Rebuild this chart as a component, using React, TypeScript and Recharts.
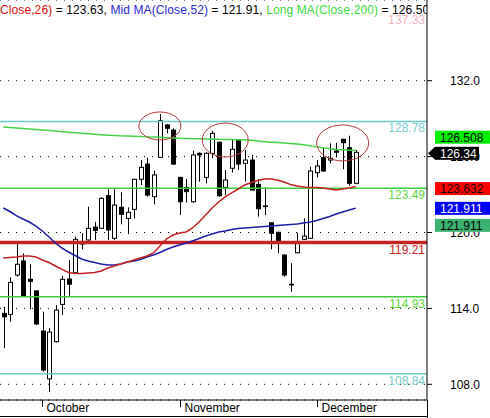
import { ComposedChart, Bar, Line, XAxis, YAxis, CartesianGrid, ReferenceLine, ReferenceDot } from "recharts"

const opens = [
  113.61, 113.53, 116.64, 117.75, 116.3, 115.38, 112.21, 108.43, 111.37, 114.32, 116.32, 116.82,
  119.19, 119.41, 120.43, 120.33, 122.91, 119.54, 121.99, 121.12, 121.83, 124.21, 125.41, 122.83,
  125.94, 128.5, 128.1, 124.36, 123.57, 122.43, 126.26, 124.36, 126.26, 127.13, 123.57, 125.08,
  127.26, 125.47, 125.73, 123.81, 122.1, 120.77, 120.02, 118.22, 115.91, 118.4, 119.46, 119.54,
  124.73, 125.91, 125.73, 126.44, 127.37, 126.7, 123.89,
]
const highs = [
  114.13, 116.46, 119.15, 118.36, 117.49, 115.45, 113.74, 112.45, 114.27, 116.56, 117.83, 119.67,
  119.94, 122.04, 120.83, 122.8, 123.42, 123.42, 123.18, 121.99, 124.25, 125.73, 125.91, 124.89,
  129.37, 128.58, 128.24, 124.4, 124.23, 126.47, 126.34, 126.34, 128.05, 127.2, 124.94, 127.31,
  127.3, 126.52, 126.13, 124.21, 123.57, 120.8, 120.05, 118.3, 117.57, 119.98, 121.12, 125.2,
  125.73, 126.74, 127.05, 127.1, 127.4, 127.65, 126.52,
]
const lows = [
  110.85, 112.95, 116.51, 114.92, 113.93, 112.69, 109.0, 107.4, 111.3, 113.48, 115.0, 116.8,
  118.67, 119.35, 119.41, 120.3, 119.41, 119.41, 120.65, 119.86, 121.12, 123.75, 122.83, 122.23,
  125.9, 127.84, 125.34, 121.38, 122.36, 122.36, 124.02, 123.89, 125.87, 122.83, 122.96, 124.73,
  124.94, 124.02, 123.3, 121.25, 121.38, 118.67, 118.36, 116.51, 115.32, 118.36, 119.4, 119.5,
  124.36, 124.8, 125.47, 125.94, 125.0, 123.68, 123.81,
]
const closes = [
  113.34, 116.06, 117.49, 114.98, 116.14, 112.77, 109.13, 112.13, 113.87, 116.3, 115.91, 119.46,
  119.09, 120.33, 120.17, 122.7, 120.2, 122.17, 121.44, 121.6, 124.21, 125.15, 122.96, 124.55,
  128.84, 128.24, 125.41, 122.43, 123.23, 126.13, 126.13, 126.26, 127.84, 122.91, 124.15, 126.58,
  125.41, 125.73, 123.36, 121.88, 122.05, 119.94, 119.19, 116.64, 115.86, 119.27, 119.72, 124.86,
  125.26, 124.86, 125.87, 126.34, 127.1, 123.89, 126.34,
]
const shortMa = [
  117.98, 118.02, 118.06, 118.14, 118.14, 118.06, 117.83, 117.63, 117.35, 117.08, 116.84, 116.76,
  116.76, 116.8, 116.84, 116.96, 117.19, 117.35, 117.51, 117.67, 117.83, 117.98, 118.14, 118.38,
  118.93, 119.49, 119.8, 119.96, 120.04, 120.36, 120.83, 121.39, 121.94, 122.41, 122.81, 123.13,
  123.44, 123.76, 123.95, 124.11, 124.23, 124.23, 124.15, 123.99, 123.79, 123.68, 123.6, 123.56,
  123.56, 123.52, 123.44, 123.36, 123.44, 123.52, 123.63,
]
const midMa = [
  121.94, 121.66, 121.34, 121.07, 120.83, 120.51, 120.12, 119.64, 119.17, 118.77, 118.46, 118.18,
  117.91, 117.75, 117.63, 117.51, 117.43, 117.43, 117.51, 117.67, 117.75, 117.87, 118.06, 118.22,
  118.42, 118.66, 118.85, 119.01, 119.17, 119.33, 119.53, 119.72, 119.88, 120.04, 120.12, 120.24,
  120.32, 120.36, 120.4, 120.43, 120.47, 120.51, 120.55, 120.59, 120.63, 120.67, 120.75, 120.83,
  120.95, 121.11, 121.26, 121.46, 121.62, 121.78, 121.91,
]
const longMa = [
  128.34, 128.3, 128.26, 128.22, 128.18, 128.14, 128.1, 128.06, 128.02, 127.97, 127.93, 127.89,
  127.85, 127.81, 127.76, 127.72, 127.69, 127.67, 127.64, 127.63, 127.61, 127.59, 127.56, 127.55,
  127.53, 127.5, 127.48, 127.45, 127.44, 127.42, 127.41, 127.39, 127.38, 127.37, 127.36, 127.35,
  127.34, 127.33, 127.29, 127.23, 127.18, 127.14, 127.11, 127.08, 127.04, 127.0, 126.93, 126.85,
  126.77, 126.7, 126.62, 126.57, 126.54, 126.51, 126.51,
]

const monthTicks = [6, 27, 48]
const monthLabels = ["October", "November", "December"]
const priceTicks = [108, 114, 120, 126, 132]
const levelValues = [137.33, 128.78, 123.49, 119.21, 114.93, 108.84]
const tagValues = [126.508, 126.34, 123.632, 121.911, 121.911]
const circledIdx = [24, 34, 52]
const circledPrice = [128.42, 127.31, 127.08]

const font = '"Liberation Sans", Arial, sans-serif'

const data = opens.map((o, i) => ({
  i,
  open: o,
  high: highs[i],
  low: lows[i],
  close: closes[i],
  ma26: shortMa[i],
  ma52: midMa[i],
  ma200: longMa[i],
}))

// line colour, line width, text colour
const levelStyle = [
  { stroke: "none", w: 0, text: "#f2b3c3" },
  { stroke: "#6cc9c9", w: 1.5, text: "#7ccccc" },
  { stroke: "#3ccc3c", w: 1.5, text: "#5cd63c" },
  { stroke: "#c42424", w: 3.5, text: "#cc2222" },
  { stroke: "#3ccc3c", w: 1.5, text: "#5cd63c" },
  { stroke: "#6cc9c9", w: 1.5, text: "#7ccccc" },
]

const tagStyle = [
  { bg: "#00f000", fg: "#000", dy: -13, w: 55, arrow: false },
  { bg: "#000", fg: "#fff", dy: 1, w: 44, arrow: true },
  { bg: "#ff0000", fg: "#200", dy: 2, w: 55, arrow: false },
  { bg: "#0000ff", fg: "#fff", dy: 0, w: 55, arrow: false },
  { bg: "#3cb371", fg: "#000", dy: 17, w: 55, arrow: false },
]

const ellipseSize = [
  { rx: 21, ry: 14 },
  { rx: 23, ry: 17 },
  { rx: 26, ry: 18 },
]

function Candle(props: any) {
  const { x, y, width, height, payload } = props
  const { open, close, high, low } = payload
  const h = Math.abs(height)
  const top = height < 0 ? y + height : y
  const py = (v: number) => (high === low ? top : top + ((high - v) / (high - low)) * h)
  const cx = Math.round(x + width / 2) + 0.5
  const up = close >= open
  const bTop = py(Math.max(open, close))
  const bBot = py(Math.min(open, close))
  return (
    <g>
      <line x1={cx} x2={cx} y1={top} y2={top + h} stroke="#000" />
      <rect
        x={cx - 2}
        y={bTop}
        width={4}
        height={Math.max(bBot - bTop, 0.5)}
        fill={up ? "#fff" : "#000"}
        stroke="#000"
      />
    </g>
  )
}

function MonthTick(props: any) {
  const { x, y, payload } = props
  const k = monthTicks.indexOf(payload.value)
  const lx = Math.round(x) + 0.5
  return (
    <g>
      <line x1={lx} x2={lx} y1={y} y2={y + 7} stroke="#000" />
      <text x={lx + 4} y={y + 12} fontSize={12} fontFamily={font} fill="#000">
        {monthLabels[k]}
      </text>
    </g>
  )
}

export default function App() {
  return (
    <div style={{ position: "absolute", left: 0, top: 0, width: 490, height: 418, background: "#fff", fontFamily: font }}>
      <ComposedChart width={490} height={418} data={data} margin={{ top: 0, right: 0, bottom: 0, left: 0 }}>
        <CartesianGrid vertical={false} stroke="#000" strokeDasharray="1 7" />
        <XAxis
          dataKey="i"
          type="category"
          ticks={monthTicks}
          interval={0}
          padding={{ left: 0, right: 68 }}
          height={18}
          axisLine={{ stroke: "#000" }}
          tickLine={false}
          tickSize={0}
          tickMargin={0}
          tick={<MonthTick />}
        />
        <YAxis
          orientation="right"
          type="number"
          width={63}
          domain={[106.76, 138.38]}
          allowDataOverflow
          ticks={priceTicks}
          tickFormatter={(v: number) => v.toFixed(1)}
          axisLine={{ stroke: "#000" }}
          tickLine={{ stroke: "#000" }}
          tickSize={5}
          tickMargin={18}
          tick={{ fill: "#000", fontSize: 12, fontFamily: font }}
        />
        {levelValues.map((v, k) => (
          <ReferenceLine
            key={"lv" + k}
            y={v}
            stroke={levelStyle[k].stroke}
            strokeWidth={levelStyle[k].w}
            ifOverflow="visible"
            label={(p: any) => (
              <text
                x={p.viewBox.x + p.viewBox.width - 2}
                y={p.viewBox.y + 11}
                textAnchor="end"
                fontSize={12}
                fontFamily={font}
                fill={levelStyle[k].text}
              >
                {v.toFixed(2)}
              </text>
            )}
          />
        ))}
        <Line dataKey="ma200" stroke="#44d444" strokeWidth={1.5} dot={false} activeDot={false} isAnimationActive={false} />
        <Line dataKey="ma52" stroke="#1c1ca8" strokeWidth={1.5} dot={false} activeDot={false} isAnimationActive={false} />
        <Line dataKey="ma26" stroke="#c42020" strokeWidth={1.5} dot={false} activeDot={false} isAnimationActive={false} />
        <Bar
          dataKey={(d: any) => [d.low, d.high]}
          barSize={5}
          shape={Candle}
          activeBar={false}
          isAnimationActive={false}
        />
        {circledIdx.map((ix, k) => (
          <ReferenceDot
            key={"el" + k}
            x={ix}
            y={circledPrice[k]}
            ifOverflow="visible"
            shape={(p: any) => (
              <ellipse
                cx={p.cx}
                cy={p.cy}
                rx={ellipseSize[k].rx}
                ry={ellipseSize[k].ry}
                fill="none"
                stroke="#b03838"
                strokeWidth={1}
              />
            )}
          />
        ))}
        {tagValues.map((v, k) => (
          <ReferenceLine
            key={"tg" + k}
            y={v}
            stroke="none"
            ifOverflow="visible"
            zIndex={3000}
            label={(p: any) => {
              const s = tagStyle[k]
              const x0 = p.viewBox.x + p.viewBox.width + 8
              const cy = p.viewBox.y + s.dy
              return (
                <g>
                  {s.arrow && (
                    <polygon points={`${x0 - 7},${cy} ${x0},${cy - 6.5} ${x0},${cy + 6.5}`} fill={s.bg} />
                  )}
                  <rect x={x0} y={cy - 6.5} width={s.w} height={13} fill={s.bg} />
                  <text x={x0 + 5} y={cy + 4.5} fontSize={12} fontFamily={font} fill={s.fg}>
                    {String(v)}
                  </text>
                </g>
              )
            }}
          />
        ))}
      </ComposedChart>
      <div
        style={{
          position: "absolute",
          left: 0,
          top: 2,
          width: 427,
          overflow: "hidden",
          whiteSpace: "nowrap",
          fontSize: 12,
          lineHeight: "16px",
          letterSpacing: "0.1px",
          color: "#000",
        }}
      >
        <span style={{ color: "#e00c0c" }}>Close,26)</span> = 123.63,{" "}
        <span style={{ color: "#2a2ad0" }}>Mid MA(Close,52)</span> = 121.91,{" "}
        <span style={{ color: "#3cdc3c" }}>Long MA(Close,200)</span> = 126.508
      </div>
      <div style={{ position: "absolute", left: 427, top: 400, width: 1, height: 18, background: "#000" }} />
      <div style={{ position: "absolute", left: 0, top: 416, width: 427, height: 1, background: "#000" }} />
    </div>
  )
}
